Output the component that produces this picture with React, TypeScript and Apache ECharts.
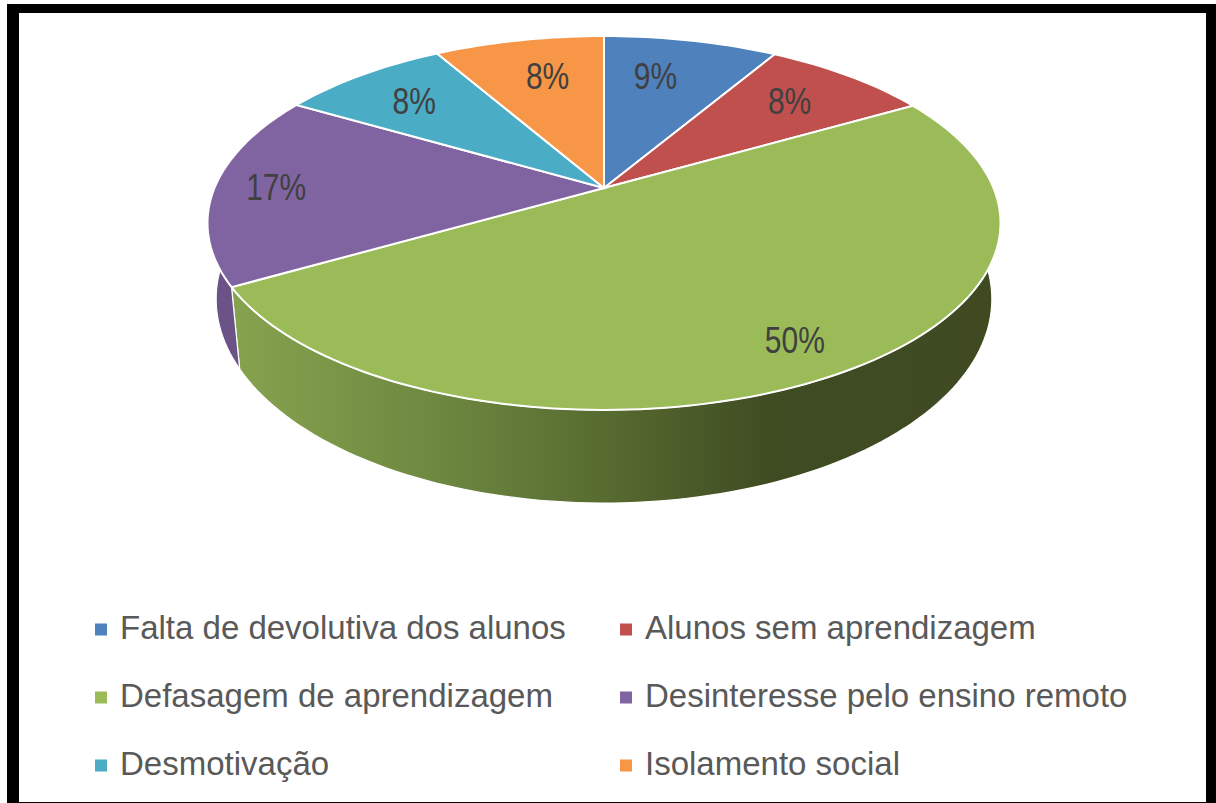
import React, { useEffect, useRef } from "react";
import * as echarts from "echarts";

const categories = [
  "Falta de devolutiva dos alunos",
  "Alunos sem aprendizagem",
  "Defasagem de aprendizagem",
  "Desinteresse pelo ensino remoto",
  "Desmotivação",
  "Isolamento social",
];
const values = [8.5, 8.2, 50, 16.7, 8.3, 8.3];
const colors = ["#4f81bd", "#c0504d", "#9bbb59", "#8064a2", "#4bacc6", "#f79646"];
const legendLeft = [categories[0], categories[2], categories[4]];
const legendRight = [categories[1], categories[3], categories[5]];

// Perspective model of the tilted disc
const CX = 604;
const TOP_Y = 188;
const A = 389.5;
const B = 180.4;
const K = 0.1872;
const BOTTOM_Y = 260.8;
const BOTTOM_A = 381;
const BOTTOM_B = 196.9;
const WALL_FROM = 70;
const WALL_TO = 290;
const labelRadius = [0.718, 0.745, 0.842, 0.842, 0.753, 0.721];
const labelShift = [-3.3, -0.7, -0.3, 0, -0.5, 1.8];
const FONT = "'Liberation Sans', sans-serif";
// A 12px square sitting low in a 12x16 box, so that it is 2px below the text's centre.
const LEGEND_ICON = "path://M0 0h0.01v0.01h-0.01z M0 4h12v12h-12z";

const total = values.reduce((a, b) => a + b, 0);
const rad = (d: number) => (d * Math.PI) / 180;

function top(deg: number, r = 1): number[] {
  const u = r * Math.sin(rad(deg));
  const v = r * Math.cos(rad(deg));
  const w = 1 + K * v;
  return [CX + (A * u) / w, TOP_Y - (B * v) / w];
}
function bottom(deg: number): number[] {
  const u = Math.sin(rad(deg));
  const v = Math.cos(rad(deg));
  const w = 1 + K * v;
  return [CX + (BOTTOM_A * u) / w, BOTTOM_Y - (BOTTOM_B * v) / w];
}
function arc(fn: (d: number) => number[], a: number, b: number): number[][] {
  const n = Math.max(2, Math.ceil(Math.abs(b - a) / 1.5));
  const out: number[][] = [];
  for (let i = 0; i <= n; i++) out.push(fn(a + ((b - a) * i) / n));
  return out;
}

function wallFill(i: number) {
  if (i === 2) {
    return new echarts.graphic.LinearGradient(0, 0, 1, 0, [
      { offset: 0, color: "#86a34f" },
      { offset: 0.25, color: "#6f8a41" },
      { offset: 0.5, color: "#56692f" },
      { offset: 0.7, color: "#3f4c22" },
      { offset: 1, color: "#3f4a23" },
    ]);
  }
  return "#6b5287";
}

function makeSeries(i: number) {
  const before = values.slice(0, i).reduce((a, b) => a + b, 0);
  return {
    type: "custom",
    name: categories[i],
    coordinateSystem: "none",
    itemStyle: { color: colors[i] },
    data: [[values[i]]],
    renderItem: (_p: any, api: any) => {
      const a0 = (before / total) * 360;
      const a1 = a0 + (api.value(0) / total) * 360;
      const children: any[] = [];
      const wa = Math.max(a0, WALL_FROM);
      const wb = Math.min(a1, WALL_TO);
      if (wb > wa) {
        children.push({
          type: "polygon",
          shape: { points: [...arc(top, wa, wb), ...arc(bottom, wb, wa)] },
          style: { fill: wallFill(i), stroke: "#ffffff", lineWidth: 1.2 },
        });
      }
      children.push({
        type: "polygon",
        shape: { points: [[CX, TOP_Y], ...arc(top, a0, a1)] },
        style: { fill: colors[i], stroke: "#ffffff", lineWidth: 2 },
      });
      const [lx, ly] = top((a0 + a1) / 2 + labelShift[i], labelRadius[i]);
      children.push({
        type: "text",
        x: lx,
        y: ly,
        scaleY: 1.2,
        style: {
          text: `${Math.round(api.value(0))}%`,
          align: "center",
          verticalAlign: "middle",
          fontSize: 30,
          fontFamily: FONT,
          fill: "#404040",
        },
      });
      return { type: "group", children };
    },
  };
}

function makeLegend(data: string[], left: number) {
  return {
    data,
    orient: "vertical",
    left,
    top: 611,
    padding: 0,
    itemWidth: 12,
    itemHeight: 16,
    itemGap: 35,
    icon: LEGEND_ICON,
    selectedMode: false,
    textStyle: { fontSize: 33, fontFamily: FONT, color: "#595959", padding: [0, 0, 0, 8] },
  };
}

export default function App() {
  const ref = useRef<HTMLDivElement>(null);
  useEffect(() => {
    const chart = echarts.init(ref.current!, undefined, { renderer: "svg" });
    chart.setOption({
      animation: false,
      backgroundColor: "#ffffff",
      legend: [makeLegend(legendLeft, 95), makeLegend(legendRight, 620)],
      series: categories.map((_, i) => makeSeries(i)),
      graphic: [
        { type: "rect", shape: { x: 7, y: 4, width: 1209, height: 9 }, style: { fill: "#000" } },
        { type: "rect", shape: { x: 7, y: 4, width: 12, height: 799 }, style: { fill: "#000" } },
        { type: "rect", shape: { x: 1206, y: 4, width: 10, height: 799 }, style: { fill: "#000" } },
        { type: "rect", shape: { x: 7, y: 802, width: 1209, height: 1 }, style: { fill: "#000" } },
      ],
    });
    return () => chart.dispose();
  }, []);
  return (
    <div
      ref={ref}
      style={{ position: "fixed", left: 0, top: 0, width: 1216, height: 803 }}
    />
  );
}
